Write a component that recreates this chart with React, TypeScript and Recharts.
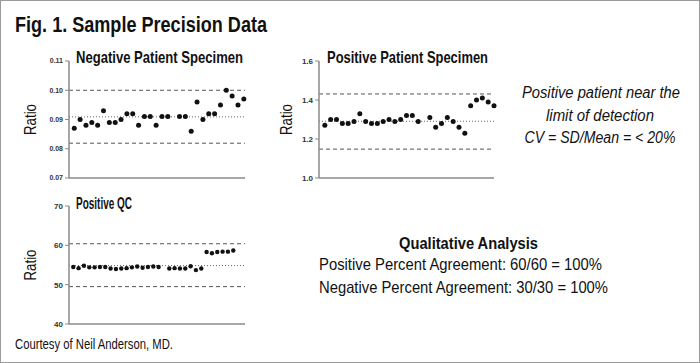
import { ScatterChart, Scatter, XAxis, YAxis, ReferenceLine } from 'recharts'

const FONT = '"Liberation Sans", Arial, sans-serif'

// run values, null = missing run
const negativeRatio = [
  0.087, 0.090, 0.088, 0.089, 0.088, 0.093, 0.089, 0.089, 0.090, 0.092,
  0.092, 0.088, 0.091, 0.091, 0.088, 0.091, 0.091, null, 0.091, 0.091,
  0.086, 0.096, 0.090, 0.092, 0.092, 0.095, 0.100, 0.098, 0.095, 0.097,
]
const positiveRatio = [
  1.27, 1.30, 1.30, 1.28, 1.28, 1.29, 1.33, 1.29, 1.28, 1.28,
  1.29, 1.30, 1.29, 1.30, 1.32, 1.32, 1.29, null, 1.31, 1.26,
  1.28, 1.31, 1.29, 1.26, 1.23, 1.37, 1.40, 1.41, 1.39, 1.37,
]
const qcRatio = [
  54.5, 54.2, 54.8, 54.4, 54.4, 54.5, 54.5, 54.1, 54.0, 54.1,
  54.2, 54.4, 54.6, 54.3, 54.5, 54.6, 54.5, null, 54.1, 54.2,
  54.1, 54.1, 54.7, 53.7, 54.1, 58.3, 58.0, 58.3, 58.4, 58.4, 58.7,
]

const negativeTicks = [0.07, 0.08, 0.09, 0.1, 0.11]
const positiveTicks = [1.0, 1.2, 1.4, 1.6]
const qcTicks = [40, 50, 60, 70]

// mean and +/- 3SD limits
const negativeLimits = { mean: 0.0909, low: 0.0819, high: 0.1 }
const positiveLimits = { mean: 1.291, low: 1.148, high: 1.431 }
const qcLimits = { mean: 54.85, low: 49.5, high: 60.4 }

const toPoints = (vals: (number | null)[]) =>
  vals.map((v, i) => ({ run: i, ratio: v })).filter((d) => d.ratio !== null)

const Dot = (r: number) => (props: any) =>
  <circle cx={props.cx} cy={props.cy} r={r} fill="#111" />

function RatioLabel({ viewBox, dx }: any) {
  const x = dx
  const y = viewBox.y + viewBox.height / 2
  return (
    <text x={x} y={y} transform={`rotate(-90 ${x} ${y})`} textAnchor="middle" dominantBaseline="central"
      fontFamily={FONT} fontSize={17} fill="#111" textLength={31} lengthAdjust="spacingAndGlyphs">Ratio</text>
  )
}

function Panel({ left, top, width, height, yAxisW, margin, values, ticks, fmt, xDomain, limits, labelX, r, tickSize }: any) {
  return (
    <div style={{ position: 'absolute', left, top }}>
      <ScatterChart width={width} height={height} margin={margin}>
        <XAxis type="number" dataKey="run" domain={xDomain} tick={false} tickLine={false} height={1}
          axisLine={{ stroke: '#8a8a8a', strokeWidth: 1.5 }} />
        <YAxis type="number" dataKey="ratio" domain={[ticks[0], ticks[ticks.length - 1]]} ticks={ticks}
          width={yAxisW} tickFormatter={fmt} tickSize={4} interval={0}
          axisLine={{ stroke: '#8a8a8a', strokeWidth: 1.5 }} tickLine={{ stroke: '#8a8a8a' }}
          tick={{ fontSize: tickSize, fontFamily: FONT, fontWeight: 700, fill: '#333' }}
          label={<RatioLabel dx={labelX} />} />
        <ReferenceLine y={limits.high} stroke="#555" strokeDasharray="4 3" />
        <ReferenceLine y={limits.mean} stroke="#666" strokeDasharray="1 2" />
        <ReferenceLine y={limits.low} stroke="#555" strokeDasharray="4 3" />
        <Scatter data={toPoints(values)} shape={Dot(r)} isAnimationActive={false} />
      </ScatterChart>
    </div>
  )
}

// condensed look: squeeze Liberation Sans to the widths measured on the figure
function T({ x, y, w, size, bold, italic, anchor, children }: any) {
  return (
    <text x={x} y={y} textLength={w} lengthAdjust="spacingAndGlyphs" fontSize={size}
      fontWeight={bold ? 700 : 400} fontStyle={italic ? 'italic' : 'normal'} textAnchor={anchor || 'start'}
      fontFamily={FONT} fill="#111">{children}</text>
  )
}

export default function App() {
  return (
    <div style={{ position: 'absolute', left: 0, top: 0, width: 700, height: 363, background: '#fff', boxShadow: 'inset 0 0 0 1px #9a9a9a', overflow: 'hidden' }}>
      <Panel left={0} top={40} width={260} height={150} yAxisW={69}
        margin={{ top: 21, right: 15, bottom: 11, left: 0 }}
        values={negativeRatio} ticks={negativeTicks} fmt={(v: number) => v.toFixed(2)}
        xDomain={[-0.9, 29.2]} limits={negativeLimits} labelX={30} r={2.5} tickSize={7} />

      <Panel left={270} top={40} width={240} height={150} yAxisW={49}
        margin={{ top: 21, right: 16, bottom: 11, left: 0 }}
        values={positiveRatio} ticks={positiveTicks} fmt={(v: number) => v.toFixed(1)}
        xDomain={[-1, 29]} limits={positiveLimits} labelX={16} r={2.5} tickSize={8} />

      <Panel left={0} top={185} width={260} height={150} yAxisW={69}
        margin={{ top: 21, right: 15, bottom: 10, left: 0 }}
        values={qcRatio} ticks={qcTicks} fmt={(v: number) => String(v)}
        xDomain={[-0.8, 32.2]} limits={qcLimits} labelX={30} r={2.2} tickSize={8} />

      <svg width={700} height={363} style={{ position: 'absolute', left: 0, top: 0, pointerEvents: 'none' }}>
        <T x={15} y={32} w={252} size={22.5} bold>Fig. 1. Sample Precision Data</T>
        <T x={76} y={63} w={167} size={16.5} bold>Negative Patient Specimen</T>
        <T x={327} y={63} w={161} size={16.5} bold>Positive Patient Specimen</T>
        <T x={76} y={209} w={56} size={16.5} bold>Positive QC</T>

        <T x={601} y={98} w={158} size={16} italic anchor="middle">Positive patient near the</T>
        <T x={600} y={121} w={108} size={16} italic anchor="middle">limit of detection</T>
        <T x={600} y={143} w={151} size={16} italic anchor="middle">CV = SD/Mean = &lt; 20%</T>

        <T x={399} y={249} w={139} size={16.5} bold>Qualitative Analysis</T>
        <T x={319} y={270} w={283} size={16.5}>Positive Percent Agreement: 60/60 = 100%</T>
        <T x={319} y={293} w={289} size={16.5}>Negative Percent Agreement: 30/30 = 100%</T>

        <T x={15} y={349} w={158} size={14}>Courtesy of Neil Anderson, MD.</T>
      </svg>
    </div>
  )
}
